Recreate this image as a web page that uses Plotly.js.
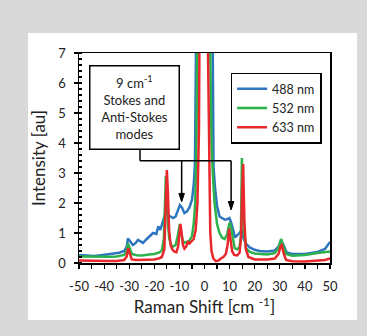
<!DOCTYPE html>
<html>
<head>
<meta charset="utf-8">
<script src="https://cdn.plot.ly/plotly-3.0.1.min.js"></script>
<style>html,body{margin:0;padding:0;background:#d9d9d9;}#chart{width:367px;height:336px;}</style>
</head>
<body>
<div id="chart"></div>
<script>
// Series names
const seriesNames = ["488 nm", "532 nm", "633 nm"];
const seriesColors = ["#2e75c0", "#2db24b", "#e8282c"];

// 488 nm
const x488 = [-50,-48,-46,-44,-42,-40,-38,-36,-34,-32,-31,-30.5,-29.5,-28.5,-27.5,-26.5,-25.5,-24.5,-23,-21.5,-20.5,-19.2,-18.4,-17.6,-16.8,-16,-15.3,-14.6,-13.5,-12.5,-11.5,-10.5,-9.8,-9,-8,-7,-6,-5,-4.3,-3.8,-3.4,-2.5,0,2.5,3.3,3.6,4.2,5,6,7,8,8.8,9.9,10.6,11.3,12.2,13,14,14.8,15.5,16.5,18,20,22,25,28,29.5,30.5,31.5,32.7,35,40,45,48,50];
const y488 = [0.27,0.25,0.24,0.23,0.25,0.27,0.3,0.32,0.34,0.4,0.55,0.82,0.7,0.6,0.66,0.77,0.72,0.67,0.8,0.93,1.0,0.97,1.22,1.1,1.3,1.55,1.75,1.6,1.55,1.5,1.55,1.75,1.93,1.85,1.66,1.72,1.85,2.1,2.6,3.3,7,20,40,20,7,3.2,2.5,1.9,1.55,1.5,1.45,1.45,1.5,1.35,1.15,0.85,0.92,1.0,1.1,0.83,0.65,0.52,0.44,0.4,0.38,0.42,0.55,0.75,0.6,0.35,0.3,0.3,0.37,0.47,0.7];

// 532 nm
const x532 = [-50,-46,-42,-38,-35,-32,-31,-30.5,-29.8,-29,-27,-25,-22,-20,-18,-17,-16.2,-15.8,-15.4,-15,-14.5,-14,-13.3,-12.5,-11.5,-10.8,-10.2,-9.8,-9.3,-8.7,-8,-7,-6,-5,-4.3,-3.7,-3.2,-2.9,-2,0,2,2.3,2.8,3.3,4,5,6,7,8,9,9.5,10,10.6,11.3,12,13,14,14.5,14.9,15.3,15.8,16.5,18,20,25,28,29.5,30.5,31.5,32.5,35,40,45,48,50];
const y532 = [0.22,0.21,0.2,0.21,0.22,0.27,0.4,0.65,0.5,0.3,0.26,0.25,0.28,0.3,0.35,0.42,0.8,2.0,2.9,2.2,1.2,0.8,0.6,0.55,0.6,0.85,1.2,1.3,1.0,0.75,0.68,0.7,0.75,0.9,1.3,2.0,4.0,7,20,40,20,7,4.0,3.0,2.0,1.3,1.0,0.85,0.8,0.95,1.2,1.35,1.2,0.8,0.5,0.45,0.55,0.9,3.5,2.2,1.0,0.5,0.37,0.32,0.28,0.33,0.5,0.8,0.55,0.3,0.24,0.27,0.33,0.35,0.38];

// 633 nm
const x633 = [-50,-46,-42,-38,-35,-32,-31,-30.4,-29.7,-29,-27,-25,-22,-20,-18,-17,-16,-15.5,-15,-14.6,-14.1,-13.5,-12.8,-12,-11.2,-10.5,-10,-9.6,-9.1,-8.6,-8,-7.3,-6.6,-6,-5.2,-4.3,-3.5,-2.8,-2.2,-1.9,-1,0,1,1.4,1.8,2.3,2.8,3.5,4.5,5.5,6.5,7.5,8.5,9.2,9.8,10.4,11,11.8,13,14,14.6,15,15.4,15.9,16.5,17.5,20,25,28,29.5,30.4,30.8,31.6,32.5,35,40,45,48,50];
const y633 = [0.08,0.07,0.07,0.07,0.07,0.1,0.22,0.5,0.3,0.12,0.1,0.1,0.11,0.12,0.16,0.2,0.45,1.5,3.1,2.4,1.1,0.6,0.45,0.38,0.36,0.55,1.0,1.3,1.0,0.6,0.48,0.55,0.7,0.65,0.72,0.8,1.1,2.0,4.5,7,20,40,20,7,3.0,1.0,0.4,0.15,0.06,0.08,0.15,0.2,0.3,0.6,1.15,0.8,0.4,0.27,0.25,0.35,0.9,2.4,3.3,1.4,0.45,0.2,0.12,0.12,0.15,0.3,0.58,0.6,0.3,0.1,0.06,0.05,0.08,0.1,0.15];

// Axis ticks
const xTicks = [-50,-40,-30,-20,-10,0,10,20,30,40,50];
const yTicks = [0,1,2,3,4,5,6,7];

const xs = [x488, x532, x633];
const ys = [y488, y532, y633];
const traces = seriesNames.map((n, i) => ({
  x: xs[i], y: ys[i], name: n, type: "scatter", mode: "lines",
  line: {color: seriesColors[i], width: 2.5}
}));

// arrow helper (connector geometry for the callout)
function arrowShapes(x, yTop, yTip) {
  return [
    {type: "line", xref: "x", yref: "y", x0: x, x1: x, y0: yTop, y1: yTip + 0.2, line: {color: "#000", width: 1.5}},
    {type: "path", xref: "x", yref: "y",
     path: `M ${x - 1.1} ${yTip + 0.28} L ${x + 1.1} ${yTip + 0.28} L ${x} ${yTip} Z`,
     fillcolor: "#000", line: {color: "#000", width: 1}}
  ];
}

const font = "Lato, 'Open Sans', sans-serif";
const layout = {
  width: 367, height: 336,
  margin: {l: 79, r: 37, t: 53, b: 73},
  paper_bgcolor: "#d9d9d9",
  plot_bgcolor: "#ffffff",
  font: {family: font, color: "#222", size: 13},
  showlegend: true,
  legend: {
    x: 0.604, y: 0.906, xanchor: "left", yanchor: "top",
    bgcolor: "#ffffff", bordercolor: "#000", borderwidth: 1.5,
    font: {family: font, size: 12.5, color: "#222"},
    itemwidth: 30, tracegroupgap: 0
  },
  xaxis: {
    range: [-50, 50], tickvals: xTicks, ticktext: xTicks.map(String),
    showgrid: false, zeroline: false, showline: true, mirror: true,
    linecolor: "#000", linewidth: 1.5,
    ticks: "outside", ticklen: 4, tickwidth: 1.2, tickcolor: "#000",
    ticklabelstandoff: 7,
    minor: {dtick: 5, ticks: "outside", ticklen: 4, tickwidth: 1.2, tickcolor: "#000", showgrid: false},
    tickfont: {size: 13, color: "#222"},
    title: {text: "Raman Shift [cm <sup>-1</sup>]", font: {size: 17, color: "#222"}, standoff: 6}
  },
  yaxis: {
    range: [0, 7], tickvals: yTicks, ticktext: yTicks.map(String),
    showgrid: false, zeroline: false, showline: true, mirror: true,
    linecolor: "#000", linewidth: 1.5,
    ticks: "outside", ticklen: 4, tickwidth: 1.2, tickcolor: "#000",
    ticklabelstandoff: 5,
    minor: {dtick: 0.2, ticks: "inside", ticklen: 3, tickwidth: 1.2, tickcolor: "#000", showgrid: false},
    tickfont: {size: 13, color: "#222"},
    title: {text: "Intensity [au]", font: {size: 17, color: "#222"}, standoff: 8}
  },
  shapes: [
    {type: "rect", xref: "paper", yref: "paper", x0: -0.203, x1: 1.108, y0: -0.271, y1: 1.095,
     fillcolor: "#ffffff", line: {width: 0}, layer: "below"},
    {type: "line", xref: "x", yref: "y", x0: -25.7, x1: -25.7, y0: 3.8, y1: 3.41, line: {color: "#000", width: 1.5}},
    {type: "line", xref: "x", yref: "y", x0: -25.7, x1: 10.6, y0: 3.41, y1: 3.41, line: {color: "#000", width: 1.5}},
    ...arrowShapes(-9.1, 3.41, 2.04),
    ...arrowShapes(10.6, 3.41, 1.77)
  ],
  annotations: [
    {xref: "x", yref: "y", x: -27.7, y: 5.17, showarrow: false,
     text: "9 cm<sup>-1</sup><br>Stokes and<br>Anti-Stokes<br>modes",
     font: {size: 13, color: "#222", family: font},
     bgcolor: "#ffffff", bordercolor: "#000", borderwidth: 1.5, borderpad: 2,
     width: 84, height: 78, align: "center", valign: "middle"}
  ]
};

Plotly.newPlot("chart", traces, layout, {displayModeBar: false, staticPlot: true});
</script>
</body>
</html>
